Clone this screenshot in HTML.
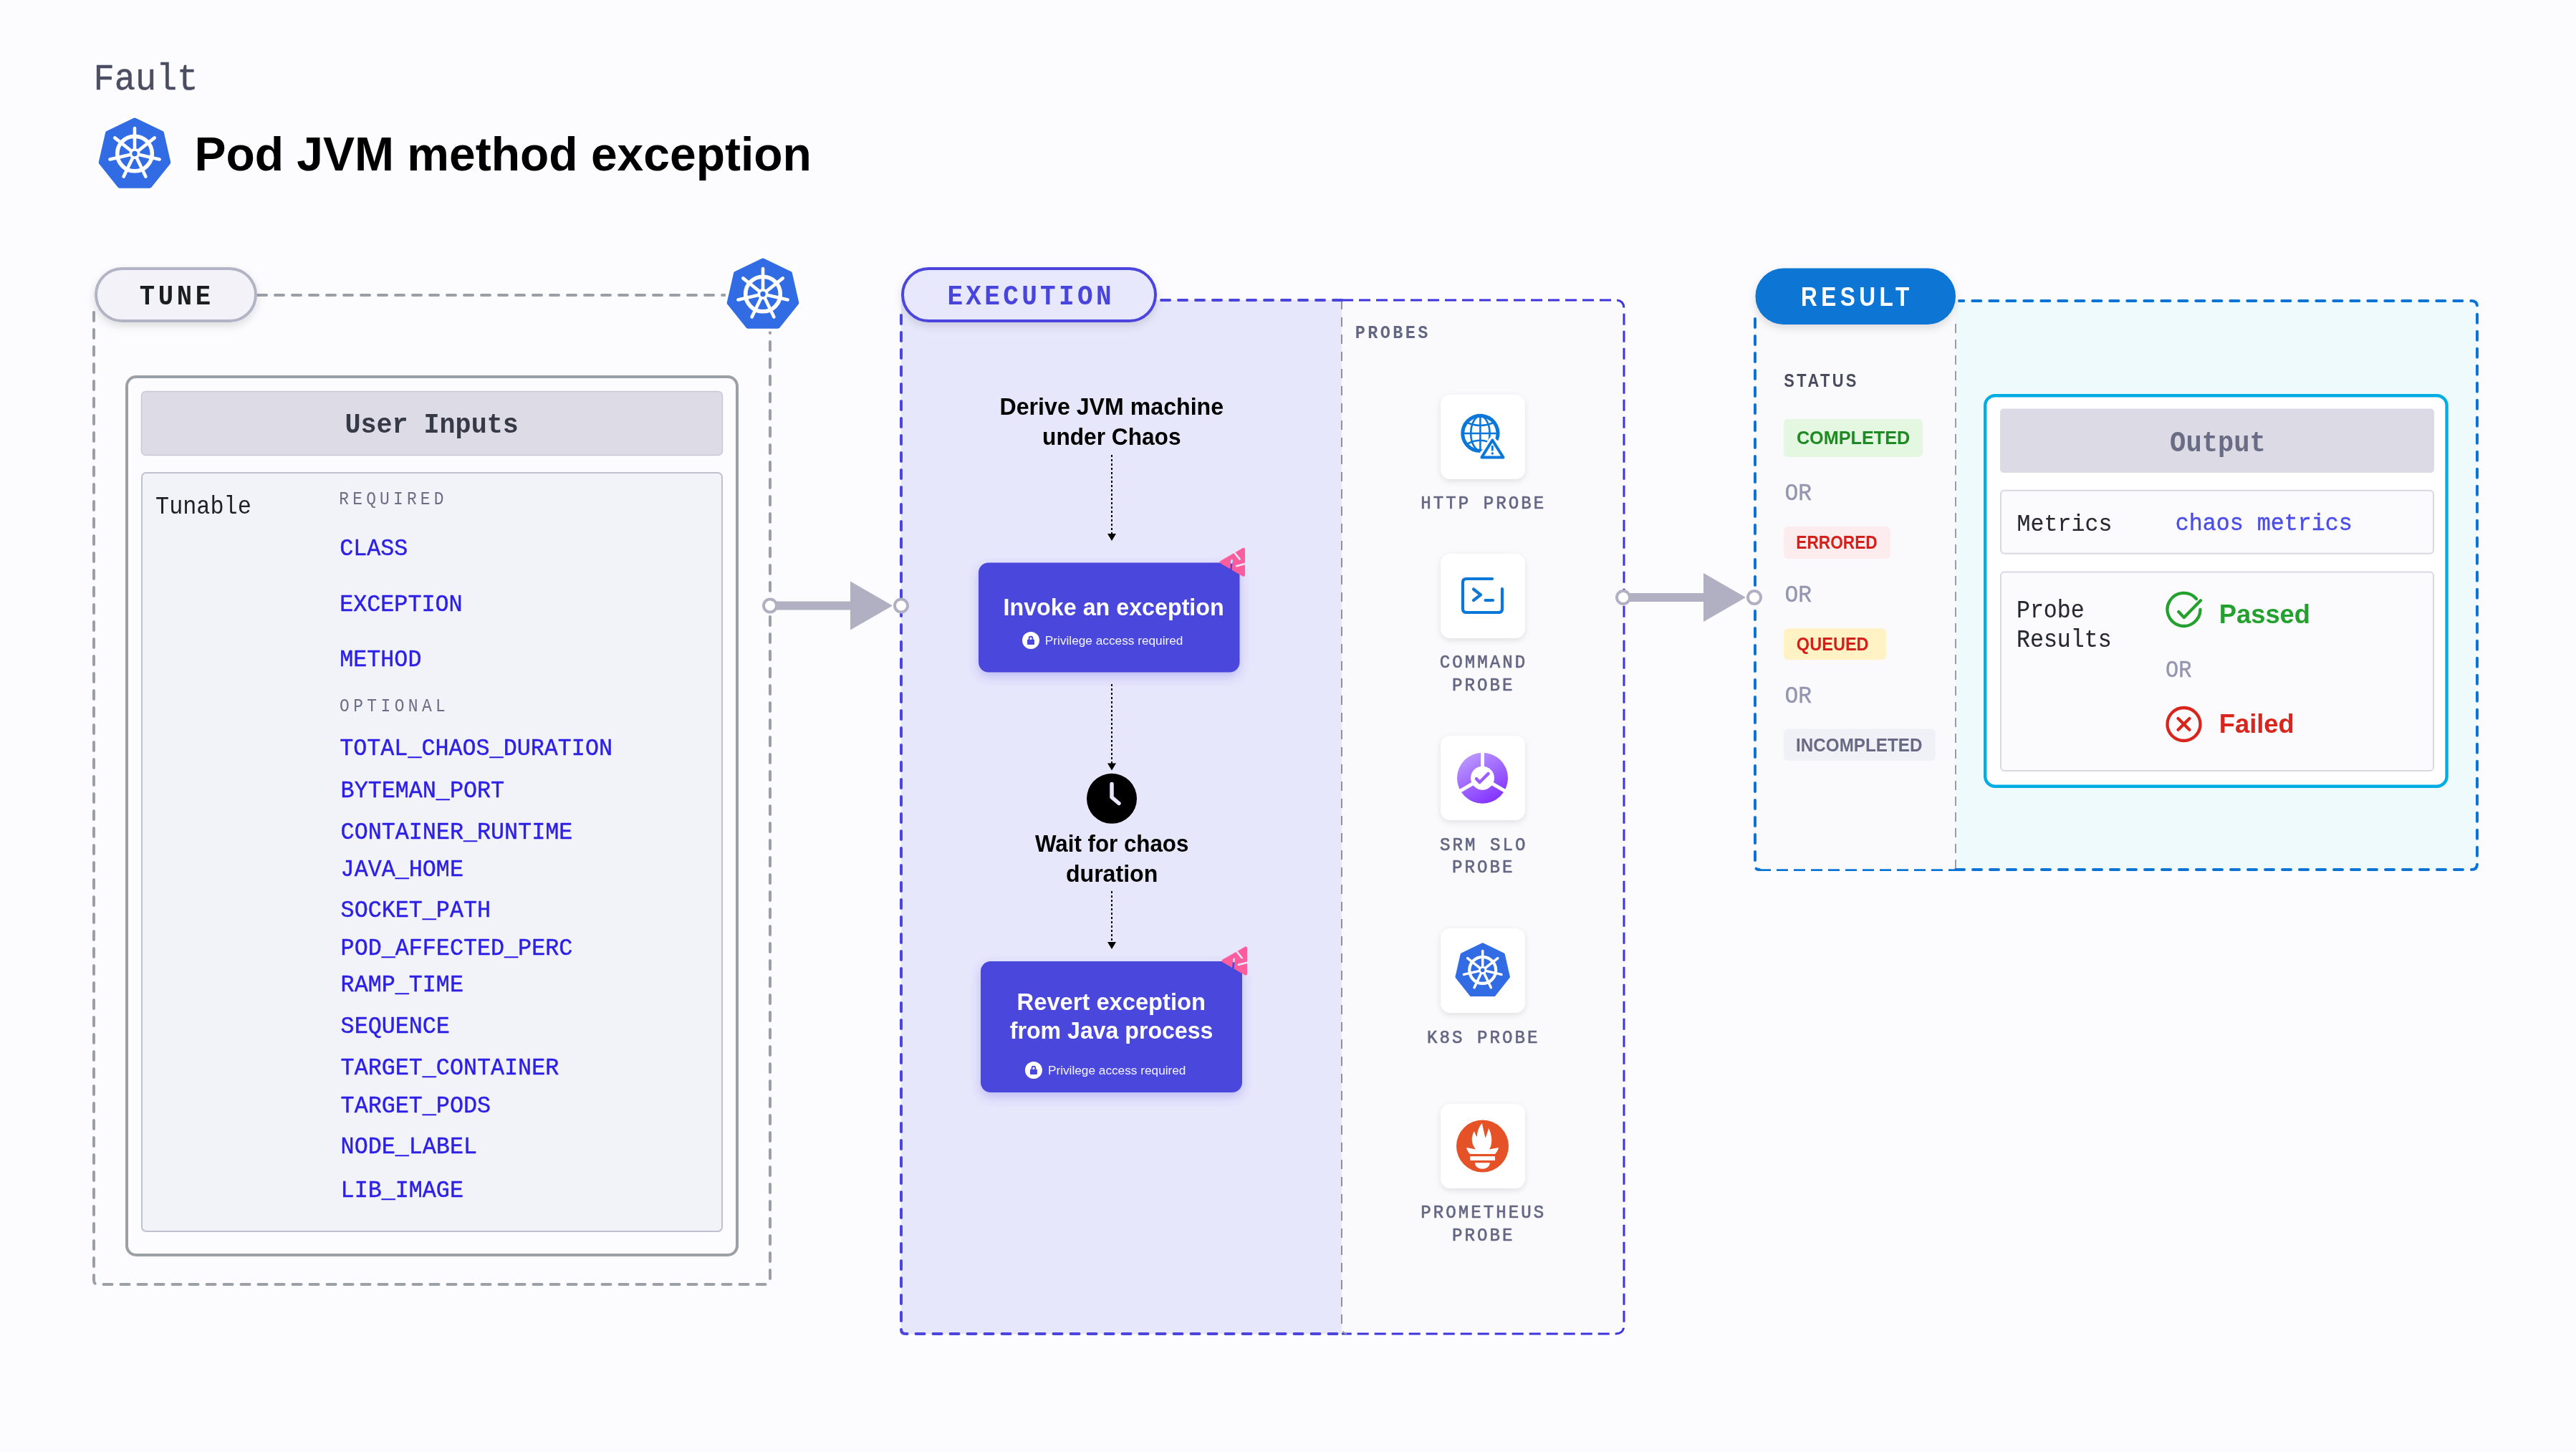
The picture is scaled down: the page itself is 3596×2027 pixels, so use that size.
<!DOCTYPE html><html><head><meta charset="utf-8"><title>Pod JVM method exception</title><style>html,body{margin:0;padding:0;background:#fcfcfe;overflow:hidden}svg{display:block;will-change:transform}</style></head><body><svg width="3596" height="2027" viewBox="0 0 3596 2027">
<defs><filter id="sh" x="-20%" y="-20%" width="140%" height="150%"><feDropShadow dx="0" dy="6" stdDeviation="8" flood-color="#4a47dc" flood-opacity="0.28"/></filter><filter id="shp" x="-20%" y="-20%" width="140%" height="160%"><feDropShadow dx="0" dy="5" stdDeviation="6" flood-color="#000" flood-opacity="0.12"/></filter><filter id="shc" x="-30%" y="-30%" width="160%" height="160%"><feDropShadow dx="0" dy="3" stdDeviation="4" flood-color="#000" flood-opacity="0.10"/></filter><linearGradient id="srm" x1="0.2" y1="0" x2="0.8" y2="1"><stop offset="0" stop-color="#bd9cff"/><stop offset="1" stop-color="#7f2cff"/></linearGradient></defs>
<rect width="3596" height="2027" fill="#fcfcfe"/>
<g transform="translate(188,216) scale(1.0)"><polygon points="0.00,-48.50 37.92,-30.24 47.28,10.79 21.04,43.70 -21.04,43.70 -47.28,10.79 -37.92,-30.24" fill="#fff" stroke="#fff" stroke-width="14" stroke-linejoin="round"/><polygon points="0.00,-48.50 37.92,-30.24 47.28,10.79 21.04,43.70 -21.04,43.70 -47.28,10.79 -37.92,-30.24" fill="#326ce5" stroke="#326ce5" stroke-width="6" stroke-linejoin="round"/><g transform="translate(0,-1.5)"><circle cx="0" cy="0" r="24.3" fill="none" stroke="#fff" stroke-width="5.6"/><line x1="0" y1="0" x2="0.00" y2="-35.50" stroke="#fff" stroke-width="4.6" stroke-linecap="round"/><line x1="0" y1="0" x2="27.76" y2="-22.13" stroke="#fff" stroke-width="4.6" stroke-linecap="round"/><line x1="0" y1="0" x2="34.61" y2="7.90" stroke="#fff" stroke-width="4.6" stroke-linecap="round"/><line x1="0" y1="0" x2="15.40" y2="31.98" stroke="#fff" stroke-width="4.6" stroke-linecap="round"/><line x1="0" y1="0" x2="-15.40" y2="31.98" stroke="#fff" stroke-width="4.6" stroke-linecap="round"/><line x1="0" y1="0" x2="-34.61" y2="7.90" stroke="#fff" stroke-width="4.6" stroke-linecap="round"/><line x1="0" y1="0" x2="-27.76" y2="-22.13" stroke="#fff" stroke-width="4.6" stroke-linecap="round"/><circle cx="0" cy="0" r="7.5" fill="#fff"/><circle cx="0" cy="0" r="3.7" fill="#326ce5"/></g></g>
<path d="M131,436 V1787 Q131,1793 137,1793 H1069 Q1075,1793 1075,1787 V460" fill="none" stroke="#9ba0a7" stroke-width="4" stroke-linecap="round" stroke-dasharray="12 12"/>
<line x1="360" y1="412" x2="1012" y2="412" stroke="#9ba0a7" stroke-width="4" stroke-linecap="round" stroke-dasharray="12 12"/>
<rect x="134" y="375" width="223" height="73" rx="36.5" fill="#f2f2f8" stroke="#b3b3c6" stroke-width="4" filter="url(#shp)"/>
<g transform="translate(1065,412) scale(1.0)"><polygon points="0.00,-48.50 37.92,-30.24 47.28,10.79 21.04,43.70 -21.04,43.70 -47.28,10.79 -37.92,-30.24" fill="#fff" stroke="#fff" stroke-width="14" stroke-linejoin="round"/><polygon points="0.00,-48.50 37.92,-30.24 47.28,10.79 21.04,43.70 -21.04,43.70 -47.28,10.79 -37.92,-30.24" fill="#326ce5" stroke="#326ce5" stroke-width="6" stroke-linejoin="round"/><g transform="translate(0,-1.5)"><circle cx="0" cy="0" r="24.3" fill="none" stroke="#fff" stroke-width="5.6"/><line x1="0" y1="0" x2="0.00" y2="-35.50" stroke="#fff" stroke-width="4.6" stroke-linecap="round"/><line x1="0" y1="0" x2="27.76" y2="-22.13" stroke="#fff" stroke-width="4.6" stroke-linecap="round"/><line x1="0" y1="0" x2="34.61" y2="7.90" stroke="#fff" stroke-width="4.6" stroke-linecap="round"/><line x1="0" y1="0" x2="15.40" y2="31.98" stroke="#fff" stroke-width="4.6" stroke-linecap="round"/><line x1="0" y1="0" x2="-15.40" y2="31.98" stroke="#fff" stroke-width="4.6" stroke-linecap="round"/><line x1="0" y1="0" x2="-34.61" y2="7.90" stroke="#fff" stroke-width="4.6" stroke-linecap="round"/><line x1="0" y1="0" x2="-27.76" y2="-22.13" stroke="#fff" stroke-width="4.6" stroke-linecap="round"/><circle cx="0" cy="0" r="7.5" fill="#fff"/><circle cx="0" cy="0" r="3.7" fill="#326ce5"/></g></g>
<rect x="177" y="526" width="852" height="1226" rx="13" fill="#fcfcfe" stroke="#9ba0a7" stroke-width="4"/>
<rect x="197.5" y="546.5" width="811" height="89" rx="6" fill="#dcdbe6" stroke="#c8c8d6" stroke-width="1.5"/>
<rect x="198" y="660" width="810" height="1059" rx="6" fill="#f2f3f8" stroke="#c0c0d0" stroke-width="2"/>
<rect x="1258" y="419" width="615" height="1443" fill="#e7e7fc"/>
<path d="M1873,419 H2255 Q2267,419 2267,431 V1850 Q2267,1862 2255,1862 H1873 Z" fill="#fafafd"/>
<path d="M1873,419 H2255 Q2267,419 2267,431 V1850 Q2267,1862 2255,1862 H1873" fill="none" stroke="#3d33e0" stroke-width="3" stroke-dasharray="16 8"/>
<path d="M1873,419 V1850 Q1873,1862 1880,1862" fill="none" stroke="#8e909c" stroke-width="2" stroke-dasharray="13 11"/>
<path d="M1873,419 H1620 M1258,440 V1856 Q1258,1862 1264,1862 H1873" fill="none" stroke="#4b45dd" stroke-width="4" stroke-linecap="round" stroke-dasharray="12 12"/>
<rect x="1260" y="375" width="353" height="73" rx="36.5" fill="#e8e8fc" stroke="#4b45dd" stroke-width="4" filter="url(#shp)"/>
<line x1="1552" y1="635" x2="1552" y2="747" stroke="#000" stroke-width="2" stroke-dasharray="3 3"/><path d="M1546,745 L1558,745 L1552,755 Z" fill="#000"/>
<rect x="1366" y="785.5" width="364.5" height="153" rx="14" fill="#4a47dc" filter="url(#sh)"/>
<g transform="translate(1690,755)"><path d="M14.8,29.8 L45.9,11.9 V47.8 Z" fill="#fd5c9d" stroke="#fd5c9d" stroke-width="4.2" stroke-linejoin="round"/><path d="M32.2,15.2 L40.6,25.6" stroke="#e7e7fc" stroke-width="2.6" stroke-linecap="round"/><path d="M29.6,27 L28,44" stroke="#4a47dc" stroke-width="2.6" stroke-linecap="round"/><path d="M29.6,27 L29.3,30.5" stroke="#e7e7fc" stroke-width="2.6" stroke-linecap="round"/><path d="M36,35.2 L49,31.8" stroke="#e7e7fc" stroke-width="2.6" stroke-linecap="round"/></g>
<circle cx="1439" cy="894" r="12" fill="#fff"/><rect x="1434.00" y="892.80" width="10" height="7.1" rx="0.8" fill="#4a47dc"/><path d="M1436.60,893.50 V891.20 A2.4,2.4 0 0 1 1441.40,891.20 V893.50" fill="none" stroke="#4a47dc" stroke-width="1.9"/>
<line x1="1552" y1="955" x2="1552" y2="1067.5" stroke="#000" stroke-width="2" stroke-dasharray="3 3"/><path d="M1546,1065.5 L1558,1065.5 L1552,1075.5 Z" fill="#000"/>
<circle cx="1552" cy="1114.8" r="35" fill="#000"/>
<path d="M1552,1094.5 V1113 L1562,1121.5" fill="none" stroke="#e7e7fc" stroke-width="5.5" stroke-linecap="round" stroke-linejoin="round"/>
<line x1="1552" y1="1244" x2="1552" y2="1317" stroke="#000" stroke-width="2" stroke-dasharray="3 3"/><path d="M1546,1315 L1558,1315 L1552,1325 Z" fill="#000"/>
<rect x="1369" y="1342" width="365" height="183" rx="14" fill="#4a47dc" filter="url(#sh)"/>
<g transform="translate(1693,1311.6)"><path d="M14.8,29.8 L45.9,11.9 V47.8 Z" fill="#fd5c9d" stroke="#fd5c9d" stroke-width="4.2" stroke-linejoin="round"/><path d="M32.2,15.2 L40.6,25.6" stroke="#e7e7fc" stroke-width="2.6" stroke-linecap="round"/><path d="M29.6,27 L28,44" stroke="#4a47dc" stroke-width="2.6" stroke-linecap="round"/><path d="M29.6,27 L29.3,30.5" stroke="#e7e7fc" stroke-width="2.6" stroke-linecap="round"/><path d="M36,35.2 L49,31.8" stroke="#e7e7fc" stroke-width="2.6" stroke-linecap="round"/></g>
<circle cx="1442.9" cy="1494" r="12" fill="#fff"/><rect x="1437.90" y="1492.80" width="10" height="7.1" rx="0.8" fill="#4a47dc"/><path d="M1440.50,1493.50 V1491.20 A2.4,2.4 0 0 1 1445.30,1491.20 V1493.50" fill="none" stroke="#4a47dc" stroke-width="1.9"/>
<rect x="2011" y="551" width="118" height="118" rx="14" fill="#fff" filter="url(#shc)"/>
<rect x="2011" y="773" width="118" height="118" rx="14" fill="#fff" filter="url(#shc)"/>
<rect x="2011" y="1027" width="118" height="118" rx="14" fill="#fff" filter="url(#shc)"/>
<rect x="2011" y="1296" width="118" height="118" rx="14" fill="#fff" filter="url(#shc)"/>
<rect x="2011" y="1541" width="118" height="118" rx="14" fill="#fff" filter="url(#shc)"/>
<g fill="none" stroke="#0b77d8"><path d="M2066.4,629.6 A24.6,24.6 0 1 1 2089.2,614.2" stroke-width="5"/><path d="M2066.4,581 V629" stroke-width="2.6"/><path d="M2042,605 H2091" stroke-width="2.6"/><ellipse cx="2066.4" cy="605" rx="13.2" ry="24" stroke-width="2.6"/><path d="M2046,589 Q2066.4,599 2087,589" stroke-width="2.6"/><path d="M2046,621 Q2062,611 2078,617" stroke-width="2.6"/></g>
<path d="M2083.3,614.5 L2098.5,638.5 H2068.4 Z" fill="#fff" stroke="#fff" stroke-width="10" stroke-linejoin="round"/>
<path d="M2083.3,614.5 L2098.5,638.5 H2068.4 Z" fill="#fff" stroke="#0b77d8" stroke-width="4" stroke-linejoin="round"/>
<line x1="2083.3" y1="622" x2="2083.3" y2="629.5" stroke="#0b77d8" stroke-width="2.8"/><circle cx="2083.3" cy="633" r="1.7" fill="#0b77d8"/>
<g fill="none" stroke="#0b77d8" stroke-width="4.2" stroke-linecap="round" stroke-linejoin="round"><path d="M2083,808 H2047 Q2042,808 2042,813 V850 Q2042,855 2047,855 H2092 Q2097,855 2097,850 V822"/><path d="M2057,822.5 L2067,830.3 L2057,838"/><path d="M2073.5,838 H2084"/></g>
<g transform="translate(2069.5,1086.2)"><circle r="35.5" fill="url(#srm)"/><line x1="0" y1="0" x2="0.00" y2="-40.00" stroke="#fff" stroke-width="5"/><line x1="0" y1="0" x2="34.64" y2="20.00" stroke="#fff" stroke-width="5"/><line x1="0" y1="0" x2="-34.64" y2="20.00" stroke="#fff" stroke-width="5"/><circle r="16.5" fill="#fff"/><path d="M-8.5,1 L-4,5.8 L8,-6" fill="none" stroke="#9d5cff" stroke-width="4.5" stroke-linecap="round" stroke-linejoin="round"/></g>
<g transform="translate(2069.7,1355.5) scale(0.76)"><polygon points="0.00,-48.50 37.92,-30.24 47.28,10.79 21.04,43.70 -21.04,43.70 -47.28,10.79 -37.92,-30.24" fill="#326ce5" stroke="#326ce5" stroke-width="6" stroke-linejoin="round"/><g transform="translate(0,-1.5)"><circle cx="0" cy="0" r="24.3" fill="none" stroke="#fff" stroke-width="5.6"/><line x1="0" y1="0" x2="0.00" y2="-35.50" stroke="#fff" stroke-width="4.6" stroke-linecap="round"/><line x1="0" y1="0" x2="27.76" y2="-22.13" stroke="#fff" stroke-width="4.6" stroke-linecap="round"/><line x1="0" y1="0" x2="34.61" y2="7.90" stroke="#fff" stroke-width="4.6" stroke-linecap="round"/><line x1="0" y1="0" x2="15.40" y2="31.98" stroke="#fff" stroke-width="4.6" stroke-linecap="round"/><line x1="0" y1="0" x2="-15.40" y2="31.98" stroke="#fff" stroke-width="4.6" stroke-linecap="round"/><line x1="0" y1="0" x2="-34.61" y2="7.90" stroke="#fff" stroke-width="4.6" stroke-linecap="round"/><line x1="0" y1="0" x2="-27.76" y2="-22.13" stroke="#fff" stroke-width="4.6" stroke-linecap="round"/><circle cx="0" cy="0" r="7.5" fill="#fff"/><circle cx="0" cy="0" r="3.7" fill="#326ce5"/></g></g>
<circle cx="2069.5" cy="1600" r="36.5" fill="#e55227"/>
<path d="M2047,1602 L2060,1604.5 C2054,1597 2053,1588 2058,1579 C2059,1583 2061,1586 2062,1587 C2062,1579 2065,1572 2069,1568 C2070,1575 2072,1580 2073.5,1589 C2075,1584 2077,1580 2078,1575 C2083,1584 2084,1597 2079,1604.5 L2092,1602 C2091,1606 2089,1609 2087,1611 H2052 C2050,1609 2048,1606 2047,1602 Z" fill="#fff"/>
<rect x="2052.3" y="1614.2" width="34.7" height="5.8" fill="#fff"/>
<path d="M2058.8,1623.2 H2079.9 A10.55,8.7 0 0 1 2058.8,1623.2 Z" fill="#fff"/>
<rect x="2450" y="420" width="280" height="794" fill="#fafafd"/>
<rect x="2730" y="420" width="728" height="794" fill="#effafd"/>
<path d="M2456,1214.6 H2730" fill="none" stroke="#0b74d4" stroke-width="2.6" stroke-dasharray="16 8"/>
<path d="M2450,445 V1208 Q2450,1214 2456,1214 M2730,1214 H3450 Q3458,1214 3458,1206 V428 Q3458,420 3450,420 H2735" fill="none" stroke="#0b74d4" stroke-width="4" stroke-linecap="round" stroke-dasharray="12 12"/>
<line x1="2730" y1="452" x2="2730" y2="1214" stroke="#6a6c7e" stroke-width="1.3" stroke-dasharray="13 9"/>
<rect x="2450.5" y="374.5" width="279.5" height="78.5" rx="39" fill="#0b74d4" filter="url(#shp)"/>
<rect x="2490" y="585.1" width="194.0" height="52.8" rx="6" fill="#e4f7e0"/>
<rect x="2490" y="734.9" width="148.9" height="45.1" rx="6" fill="#fdeced"/>
<rect x="2490" y="877.3" width="143.0" height="43.6" rx="6" fill="#fff2c5"/>
<rect x="2490" y="1017.8" width="212.0" height="44.2" rx="6" fill="#f0f0f7"/>
<rect x="2771.2" y="552.2" width="644.4" height="545.5" rx="14" fill="#ffffff" stroke="#00ade2" stroke-width="4.4"/>
<rect x="2792" y="570.5" width="606" height="89.5" rx="5" fill="#dbdae5"/>
<rect x="2793" y="684.8" width="604" height="88" rx="5" fill="#fbfbfd" stroke="#d8d8e2" stroke-width="2"/>
<rect x="2793" y="798.6" width="604" height="277.5" rx="5" fill="#fbfbfd" stroke="#d8d8e2" stroke-width="2"/>
<path d="M3066,836 A23,23 0 1 0 3071.5,851" fill="none" stroke="#23a02d" stroke-width="4.3" stroke-linecap="round"/>
<path d="M3041.3,854 L3048.8,862 L3072,838.3" fill="none" stroke="#23a02d" stroke-width="4.3" stroke-linecap="round" stroke-linejoin="round"/>
<circle cx="3048.5" cy="1011" r="23" fill="none" stroke="#d9261c" stroke-width="4.3"/>
<path d="M3040.6,1003 L3056.4,1018.8 M3056.4,1003 L3040.6,1018.8" stroke="#d9261c" stroke-width="4.3" stroke-linecap="round"/>
<line x1="1075" y1="845.5" x2="1189" y2="845.5" stroke="#b1b0c3" stroke-width="12"/><path d="M1187,811.5 L1246,845.5 L1187,879.5 Z" fill="#b1b0c3"/><circle cx="1075" cy="845.5" r="9" fill="#fff" stroke="#b1b0c3" stroke-width="4"/><circle cx="1258" cy="845.5" r="9" fill="#fff" stroke="#b1b0c3" stroke-width="4"/>
<line x1="2266" y1="834" x2="2380" y2="834" stroke="#b1b0c3" stroke-width="12"/><path d="M2378,800 L2437,834 L2378,868 Z" fill="#b1b0c3"/><circle cx="2266" cy="834" r="9" fill="#fff" stroke="#b1b0c3" stroke-width="4"/><circle cx="2449" cy="834" r="9" fill="#fff" stroke="#b1b0c3" stroke-width="4"/>
<text transform="matrix(0.48648 0 0 0.51466 130.52 124.9)" x="0" y="0" font-family="Liberation Mono" font-size="100" font-weight="normal" fill="#4b4d62" stroke="#4b4d62" stroke-width="1.00" stroke-linejoin="round">Fault</text>
<text transform="matrix(0.65994 0 0 0.67588 271.38 237.8)" x="0" y="0" font-family="Liberation Sans" font-size="100" font-weight="bold" fill="#000">Pod JVM method exception</text>
<text transform="matrix(0.35616 0 0 0.38713 194.73 424.8)" x="0" y="0" font-family="Liberation Mono" font-size="100" font-weight="bold" fill="#1b1e21" letter-spacing="13.12">TUNE</text>
<text transform="matrix(0.36728 0 0 0.38713 481.40 604.4)" x="0" y="0" font-family="Liberation Mono" font-size="100" font-weight="bold" fill="#363946">User Inputs</text>
<text transform="matrix(0.31834 0 0 0.34614 217.03 717.4)" x="0" y="0" font-family="Liberation Mono" font-size="100" font-weight="normal" fill="#1f2024">Tunable</text>
<text transform="matrix(0.22906 0 0 0.24898 473.37 703.7)" x="0" y="0" font-family="Liberation Mono" font-size="100" font-weight="normal" fill="#6b6d84" letter-spacing="22.59">REQUIRED</text>
<text transform="matrix(0.22906 0 0 0.24898 474.05 993)" x="0" y="0" font-family="Liberation Mono" font-size="100" font-weight="normal" fill="#6b6d84" letter-spacing="23.62">OPTIONAL</text>
<text transform="matrix(0.31745 0 0 0.33855 474.20 774.9)" x="0" y="0" font-family="Liberation Mono" font-size="100" font-weight="normal" fill="#2c1fe6" stroke="#2c1fe6" stroke-width="1.37" stroke-linejoin="round">CLASS</text>
<text transform="matrix(0.31745 0 0 0.33855 474.20 852.6)" x="0" y="0" font-family="Liberation Mono" font-size="100" font-weight="normal" fill="#2c1fe6" stroke="#2c1fe6" stroke-width="1.37" stroke-linejoin="round">EXCEPTION</text>
<text transform="matrix(0.31745 0 0 0.33855 474.20 929.7)" x="0" y="0" font-family="Liberation Mono" font-size="100" font-weight="normal" fill="#2c1fe6" stroke="#2c1fe6" stroke-width="1.37" stroke-linejoin="round">METHOD</text>
<text transform="matrix(0.31745 0 0 0.33855 474.20 1053.8)" x="0" y="0" font-family="Liberation Mono" font-size="100" font-weight="normal" fill="#2c1fe6" stroke="#2c1fe6" stroke-width="1.37" stroke-linejoin="round">TOTAL_CHAOS_DURATION</text>
<text transform="matrix(0.31745 0 0 0.33855 475.60 1113.3)" x="0" y="0" font-family="Liberation Mono" font-size="100" font-weight="normal" fill="#2c1fe6" stroke="#2c1fe6" stroke-width="1.37" stroke-linejoin="round">BYTEMAN_PORT</text>
<text transform="matrix(0.31745 0 0 0.33855 475.60 1171.3)" x="0" y="0" font-family="Liberation Mono" font-size="100" font-weight="normal" fill="#2c1fe6" stroke="#2c1fe6" stroke-width="1.37" stroke-linejoin="round">CONTAINER_RUNTIME</text>
<text transform="matrix(0.31745 0 0 0.33855 475.60 1223.3)" x="0" y="0" font-family="Liberation Mono" font-size="100" font-weight="normal" fill="#2c1fe6" stroke="#2c1fe6" stroke-width="1.37" stroke-linejoin="round">JAVA_HOME</text>
<text transform="matrix(0.31745 0 0 0.33855 475.60 1280.3)" x="0" y="0" font-family="Liberation Mono" font-size="100" font-weight="normal" fill="#2c1fe6" stroke="#2c1fe6" stroke-width="1.37" stroke-linejoin="round">SOCKET_PATH</text>
<text transform="matrix(0.31745 0 0 0.33855 475.60 1333.3)" x="0" y="0" font-family="Liberation Mono" font-size="100" font-weight="normal" fill="#2c1fe6" stroke="#2c1fe6" stroke-width="1.37" stroke-linejoin="round">POD_AFFECTED_PERC</text>
<text transform="matrix(0.31745 0 0 0.33855 475.60 1384.3)" x="0" y="0" font-family="Liberation Mono" font-size="100" font-weight="normal" fill="#2c1fe6" stroke="#2c1fe6" stroke-width="1.37" stroke-linejoin="round">RAMP_TIME</text>
<text transform="matrix(0.31745 0 0 0.33855 475.60 1441.6)" x="0" y="0" font-family="Liberation Mono" font-size="100" font-weight="normal" fill="#2c1fe6" stroke="#2c1fe6" stroke-width="1.37" stroke-linejoin="round">SEQUENCE</text>
<text transform="matrix(0.31745 0 0 0.33855 475.60 1499.8)" x="0" y="0" font-family="Liberation Mono" font-size="100" font-weight="normal" fill="#2c1fe6" stroke="#2c1fe6" stroke-width="1.37" stroke-linejoin="round">TARGET_CONTAINER</text>
<text transform="matrix(0.31745 0 0 0.33855 475.60 1552.8)" x="0" y="0" font-family="Liberation Mono" font-size="100" font-weight="normal" fill="#2c1fe6" stroke="#2c1fe6" stroke-width="1.37" stroke-linejoin="round">TARGET_PODS</text>
<text transform="matrix(0.31745 0 0 0.33855 475.60 1609.8)" x="0" y="0" font-family="Liberation Mono" font-size="100" font-weight="normal" fill="#2c1fe6" stroke="#2c1fe6" stroke-width="1.37" stroke-linejoin="round">NODE_LABEL</text>
<text transform="matrix(0.31745 0 0 0.33855 475.60 1670.8)" x="0" y="0" font-family="Liberation Mono" font-size="100" font-weight="normal" fill="#2c1fe6" stroke="#2c1fe6" stroke-width="1.37" stroke-linejoin="round">LIB_IMAGE</text>
<text transform="matrix(0.36035 0 0 0.39169 1322.38 424.9)" x="0" y="0" font-family="Liberation Mono" font-size="100" font-weight="bold" fill="#4845dc" letter-spacing="11.99">EXECUTION</text>
<text transform="matrix(0.32152 0 0 0.32704 1395.55 579.2)" x="0" y="0" font-family="Liberation Sans" font-size="100" font-weight="bold" fill="#000">Derive JVM machine</text>
<text transform="matrix(0.31664 0 0 0.32704 1455.10 620.8)" x="0" y="0" font-family="Liberation Sans" font-size="100" font-weight="bold" fill="#000">under Chaos</text>
<text transform="matrix(0.32259 0 0 0.32995 1400.54 858.7)" x="0" y="0" font-family="Liberation Sans" font-size="100" font-weight="bold" fill="#fff">Invoke an exception</text>
<text transform="matrix(0.17262 0 0 0.17151 1458.82 900)" x="0" y="0" font-family="Liberation Sans" font-size="100" font-weight="normal" fill="#f4f4ff">Privilege access required</text>
<text transform="matrix(0.31278 0 0 0.32413 1445.00 1189)" x="0" y="0" font-family="Liberation Sans" font-size="100" font-weight="bold" fill="#000">Wait for chaos</text>
<text transform="matrix(0.32103 0 0 0.32413 1487.92 1230.7)" x="0" y="0" font-family="Liberation Sans" font-size="100" font-weight="bold" fill="#000">duration</text>
<text transform="matrix(0.32699 0 0 0.32995 1419.61 1409.9)" x="0" y="0" font-family="Liberation Sans" font-size="100" font-weight="bold" fill="#fff">Revert exception</text>
<text transform="matrix(0.32096 0 0 0.32995 1409.86 1450.1)" x="0" y="0" font-family="Liberation Sans" font-size="100" font-weight="bold" fill="#fff">from Java process</text>
<text transform="matrix(0.17244 0 0 0.17151 1462.92 1500)" x="0" y="0" font-family="Liberation Sans" font-size="100" font-weight="normal" fill="#f4f4ff">Privilege access required</text>
<text transform="matrix(0.23501 0 0 0.26112 1891.75 472)" x="0" y="0" font-family="Liberation Mono" font-size="100" font-weight="bold" fill="#646783" letter-spacing="14.51">PROBES</text>
<text transform="matrix(0.24163 0 0 0.26264 1983.25 710.4)" x="0" y="0" font-family="Liberation Mono" font-size="100" font-weight="normal" fill="#646783" letter-spacing="12.41" stroke="#646783" stroke-width="2.58" stroke-linejoin="round">HTTP PROBE</text>
<text transform="matrix(0.24163 0 0 0.26264 2009.74 932.1)" x="0" y="0" font-family="Liberation Mono" font-size="100" font-weight="normal" fill="#646783" letter-spacing="12.41" stroke="#646783" stroke-width="2.58" stroke-linejoin="round">COMMAND</text>
<text transform="matrix(0.24163 0 0 0.26264 2026.99 964.1)" x="0" y="0" font-family="Liberation Mono" font-size="100" font-weight="normal" fill="#646783" letter-spacing="12.41" stroke="#646783" stroke-width="2.58" stroke-linejoin="round">PROBE</text>
<text transform="matrix(0.24163 0 0 0.26264 2009.98 1186.9)" x="0" y="0" font-family="Liberation Mono" font-size="100" font-weight="normal" fill="#646783" letter-spacing="12.41" stroke="#646783" stroke-width="2.58" stroke-linejoin="round">SRM SLO</text>
<text transform="matrix(0.24163 0 0 0.26264 2026.99 1218.4)" x="0" y="0" font-family="Liberation Mono" font-size="100" font-weight="normal" fill="#646783" letter-spacing="12.41" stroke="#646783" stroke-width="2.58" stroke-linejoin="round">PROBE</text>
<text transform="matrix(0.24163 0 0 0.26264 1992.00 1455.5)" x="0" y="0" font-family="Liberation Mono" font-size="100" font-weight="normal" fill="#646783" letter-spacing="12.41" stroke="#646783" stroke-width="2.58" stroke-linejoin="round">K8S PROBE</text>
<text transform="matrix(0.24163 0 0 0.26264 1983.25 1700)" x="0" y="0" font-family="Liberation Mono" font-size="100" font-weight="normal" fill="#646783" letter-spacing="12.41" stroke="#646783" stroke-width="2.58" stroke-linejoin="round">PROMETHEUS</text>
<text transform="matrix(0.24163 0 0 0.26264 2026.99 1732)" x="0" y="0" font-family="Liberation Mono" font-size="100" font-weight="normal" fill="#646783" letter-spacing="12.41" stroke="#646783" stroke-width="2.58" stroke-linejoin="round">PROBE</text>
<text transform="matrix(0.31623 0 0 0.37646 2513.89 427)" x="0" y="0" font-family="Liberation Sans" font-size="100" font-weight="bold" fill="#fff" letter-spacing="17.30">RESULT</text>
<text transform="matrix(0.21872 0 0 0.24855 2490.34 540.1)" x="0" y="0" font-family="Liberation Sans" font-size="100" font-weight="bold" fill="#4a4c5e" letter-spacing="15.38">STATUS</text>
<text transform="matrix(0.25234 0 0 0.25436 2507.89 619.9)" x="0" y="0" font-family="Liberation Sans" font-size="100" font-weight="bold" fill="#1e8a23">COMPLETED</text>
<text transform="matrix(0.22699 0 0 0.25436 2507.31 766)" x="0" y="0" font-family="Liberation Sans" font-size="100" font-weight="bold" fill="#d4201a">ERRORED</text>
<text transform="matrix(0.23556 0 0 0.25436 2507.86 908)" x="0" y="0" font-family="Liberation Sans" font-size="100" font-weight="bold" fill="#d4201a">QUEUED</text>
<text transform="matrix(0.24232 0 0 0.25582 2507.10 1048.7)" x="0" y="0" font-family="Liberation Sans" font-size="100" font-weight="bold" fill="#686a85">INCOMPLETED</text>
<text transform="matrix(0.31429 0 0 0.33703 2491.43 697.9)" x="0" y="0" font-family="Liberation Mono" font-size="100" font-weight="normal" fill="#9496b0" stroke="#9496b0" stroke-width="1.23" stroke-linejoin="round">OR</text>
<text transform="matrix(0.31429 0 0 0.33703 2491.43 840.2)" x="0" y="0" font-family="Liberation Mono" font-size="100" font-weight="normal" fill="#9496b0" stroke="#9496b0" stroke-width="1.23" stroke-linejoin="round">OR</text>
<text transform="matrix(0.31429 0 0 0.33703 2491.43 981.3)" x="0" y="0" font-family="Liberation Mono" font-size="100" font-weight="normal" fill="#9496b0" stroke="#9496b0" stroke-width="1.23" stroke-linejoin="round">OR</text>
<text transform="matrix(0.30446 0 0 0.33248 3023.08 945.3)" x="0" y="0" font-family="Liberation Mono" font-size="100" font-weight="normal" fill="#9496b0" stroke="#9496b0" stroke-width="1.26" stroke-linejoin="round">OR</text>
<text transform="matrix(0.37147 0 0 0.39776 3029.11 629.8)" x="0" y="0" font-family="Liberation Mono" font-size="100" font-weight="bold" fill="#6a6c85">Output</text>
<text transform="matrix(0.31650 0 0 0.33855 2815.60 740.8)" x="0" y="0" font-family="Liberation Mono" font-size="100" font-weight="normal" fill="#26272f" stroke="#26272f" stroke-width="0.31" stroke-linejoin="round">Metrics</text>
<text transform="matrix(0.31684 0 0 0.33855 3036.80 740.2)" x="0" y="0" font-family="Liberation Mono" font-size="100" font-weight="normal" fill="#4b4ee6" stroke="#4b4ee6" stroke-width="1.22" stroke-linejoin="round">chaos metrics</text>
<text transform="matrix(0.31579 0 0 0.34159 2814.97 861.5)" x="0" y="0" font-family="Liberation Mono" font-size="100" font-weight="normal" fill="#26272f" stroke="#26272f" stroke-width="0.30" stroke-linejoin="round">Probe</text>
<text transform="matrix(0.31609 0 0 0.34159 2814.97 902.7)" x="0" y="0" font-family="Liberation Mono" font-size="100" font-weight="normal" fill="#26272f" stroke="#26272f" stroke-width="0.30" stroke-linejoin="round">Results</text>
<text transform="matrix(0.36350 0 0 0.37791 3097.76 870)" x="0" y="0" font-family="Liberation Sans" font-size="100" font-weight="bold" fill="#23a02d">Passed</text>
<text transform="matrix(0.36364 0 0 0.37210 3097.75 1023.4)" x="0" y="0" font-family="Liberation Sans" font-size="100" font-weight="bold" fill="#d9261c">Failed</text>
</svg></body></html>
